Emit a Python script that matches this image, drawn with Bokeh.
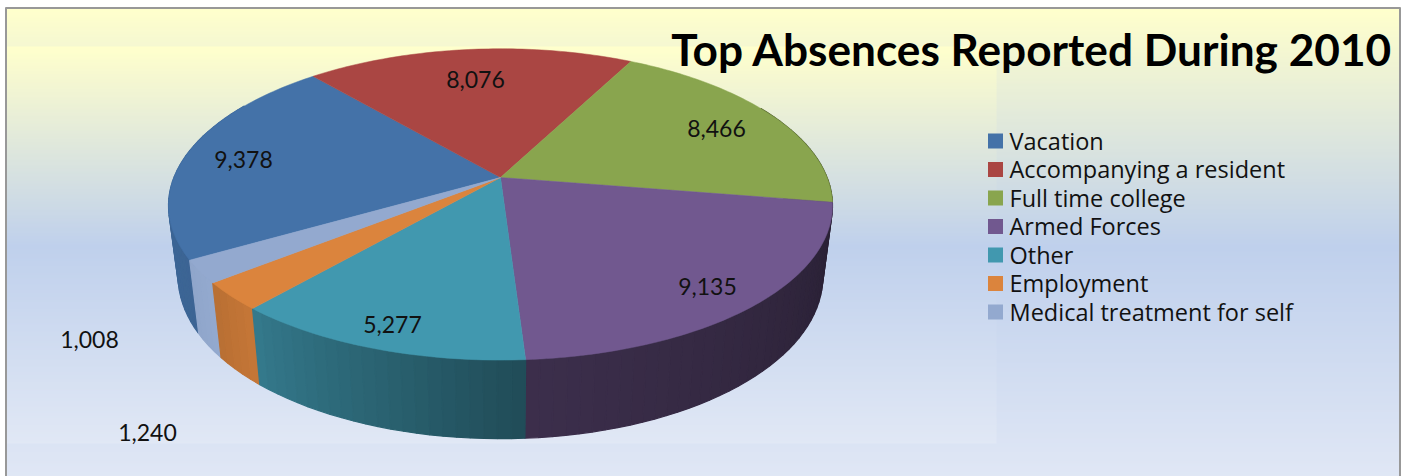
import math
from bokeh.plotting import figure
from bokeh.models import Range1d
from bokeh.core.properties import value
from bokeh.embed import file_html
from bokeh.resources import INLINE

categories = ["Vacation", "Accompanying a resident", "Full time college", "Armed Forces",
              "Other", "Employment", "Medical treatment for self"]
values = [9378, 8076, 8466, 9135, 5277, 1240, 1008]
labels = ["9,378", "8,076", "8,466", "9,135", "5,277", "1,240", "1,008"]
colors = ["#4472a8", "#aa4643", "#89a54e", "#71588f", "#4198af", "#db843d", "#93a9cf"]
title = "Top Absences Reported During 2010"

label_pos = [(243, 159), (475, 79), (716, 128), (707, 286), (392, 324), (147, 432), (89, 339)]
wall_shade = [(0.88, 0.93), (0.8, 0.8), (0.6, 0.45), (0.36, 0.53), (0.5, 0.8), (0.9, 0.84), (1.0, 0.98)]

W, H = 1404, 476
p = figure(width=W, height=H, x_range=Range1d(0, W), y_range=Range1d(H, 0),
           toolbar_location=None, output_backend="svg", min_border=0)
p.axis.visible = False
p.grid.visible = False
p.outline_line_color = None
p.background_fill_color = "white"
p.border_fill_color = "white"


def mix(stops, y):
    for (y0, c0), (y1, c1) in zip(stops, stops[1:]):
        if y <= y1:
            t = max(0, (y - y0) / (y1 - y0))
            rgb = [round(c0[i] + (c1[i] - c0[i]) * t) for i in range(3)]
            return "#%02x%02x%02x" % tuple(rgb)
    return "#%02x%02x%02x" % tuple(stops[-1][1])


YEL, MID = (255, 255, 204), (191, 208, 236)
outer = [(8, YEL), (245, MID), (476, (224, 231, 245))]
inner = [(46, YEL), (245, MID), (443, (225, 232, 245))]
ys = list(range(8, 476, 2))
p.quad(left=6, right=1399, bottom=[y + 2.5 for y in ys], top=ys,
       fill_color=[mix(outer, y) for y in ys], line_color=None)
ys2 = list(range(46, 443, 2))
p.quad(left=6, right=996, bottom=[min(y + 2.5, 443) for y in ys2], top=ys2,
       fill_color=[mix(inner, y) for y in ys2], line_color=None)
# frame
p.segment(x0=[5, 5.5, 1399.5], y0=[7.5, 7, 7], x1=[1400, 5.5, 1399.5], y1=[7.5, 476, 476],
          line_color="#989898", line_width=2)

CX, CY = 500.0, 177.0
AX, KX, BY, KY = 326.6, 0.18, 151.0, 0.173
SHRINK, DROP = 1.03, 71.5
START = -120.0


def top_pt(th):
    X, Y = math.sin(math.radians(th)), math.cos(math.radians(th))
    return CX + AX * X / (1 + KX * Y), CY - BY * Y / (1 + KY * Y)


def bot_pt(th):
    X, Y = math.sin(math.radians(th)), math.cos(math.radians(th))
    wx, wy = (1 + KX * Y) * SHRINK, (1 + KY * Y) * SHRINK
    return CX + AX * X / wx, CY + (DROP - BY * Y) / wy


def shade(c, f):
    return "#%02x%02x%02x" % tuple(round(int(c[i:i + 2], 16) * f) for i in (1, 3, 5))


total = sum(values)
edges = [START]
for v in values:
    edges.append(edges[-1] + 360.0 * v / total)

# side walls, far strips first
strips = []
for a0, a1, col, (s0, s1) in zip(edges, edges[1:], colors, wall_shade):
    n = max(2, int((a1 - a0) / 2))
    for i in range(n):
        t0, t1 = a0 + (a1 - a0) * i / n, a0 + (a1 - a0) * (i + 1) / n
        mid = (t0 + t1) / 2 % 360
        if not 60 < mid < 300:
            continue
        pts = [top_pt(t0), top_pt(t1), bot_pt(t1), bot_pt(t0)]
        f = s0 + (s1 - s0) * (i + 0.5) / n
        strips.append((abs(mid - 180), [q[0] for q in pts], [q[1] for q in pts], shade(col, f)))
strips.sort(key=lambda s: -s[0])
wc = [s[3] for s in strips]
p.patches([s[1] for s in strips], [s[2] for s in strips], fill_color=wc, line_color=wc, line_width=1.2)

# top faces
xs, ys_t = [], []
for a0, a1 in zip(edges, edges[1:]):
    n = max(4, int(a1 - a0))
    pts = [(CX, CY)] + [top_pt(a0 + (a1 - a0) * i / n) for i in range(n + 1)]
    xs.append([q[0] for q in pts])
    ys_t.append([q[1] for q in pts])
p.patches(xs, ys_t, fill_color=colors, line_color=colors, line_width=0.5)

p.text(x=[q[0] for q in label_pos], y=[q[1] for q in label_pos], text=labels,
       text_font=value("Lato"), text_font_size="23px", text_color="#111111",
       text_align="center", text_baseline="middle")

rows = [140.5 + 28.5 * i for i in range(len(categories))]
p.rect(x=995, y=rows, width=15, height=15, fill_color=colors, line_color=None)
p.text(x=1009, y=[r - 0.5 for r in rows], text=categories, text_font=value("Open Sans"), text_font_size="23.5px",
       text_color="#111111", text_align="left", text_baseline="middle")

p.text(x=[1031.5], y=[48], text=[title], text_font=value("Lato"), text_font_style="bold",
       text_font_size="44.2px", text_color="#000000", text_align="center", text_baseline="middle")

open("out.html", "w").write(file_html(p, INLINE))
